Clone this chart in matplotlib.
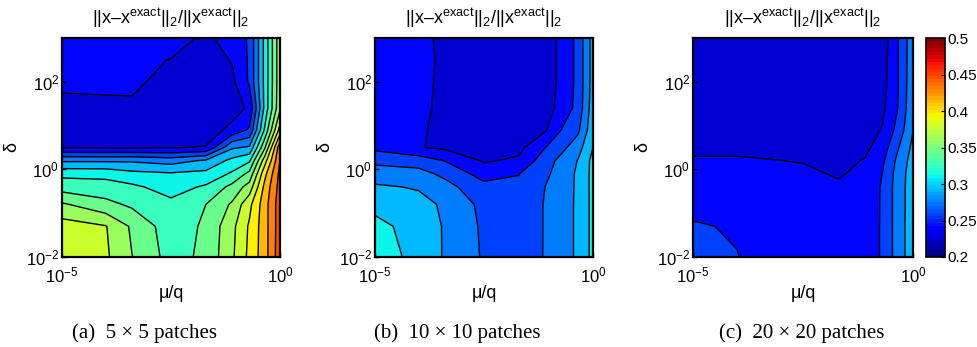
import numpy as np
import matplotlib
matplotlib.use("Agg")
import matplotlib.pyplot as plt
from matplotlib.colors import Normalize
from matplotlib.cm import ScalarMappable

plt.rcParams["font.family"] = ["Liberation Sans", "DejaVu Sans"]
plt.rcParams["mathtext.fontset"] = "custom"
plt.rcParams["mathtext.rm"] = "Liberation Sans"
plt.rcParams["mathtext.it"] = "Liberation Sans:italic"
plt.rcParams["mathtext.bf"] = "Liberation Sans:bold"

# ── Data (grid nodes are log10 exponents) ─────────────────────
mu_q_exp  = [-5, -4, -3.4, -2.5, -1.7, -1.1, -0.7, -0.35, 0]
delta_exp = [-2, -1.3, -0.8, -0.4, -0.1, 0.2, 0.5, 0.9, 1.4, 2.0, 2.5, 3]

# relative error, one list per mu/q node (bottom -> top in delta)
err_5x5_cols = [
    [0.385, 0.383, 0.360, 0.332, 0.318, 0.285, 0.234, 0.228, 0.231, 0.238, 0.240, 0.240],
    [0.378, 0.376, 0.345, 0.330, 0.317, 0.285, 0.233, 0.227, 0.231, 0.239, 0.240, 0.240],
    [0.358, 0.355, 0.337, 0.326, 0.310, 0.285, 0.233, 0.226, 0.232, 0.2385, 0.239, 0.239],
    [0.333, 0.330, 0.327, 0.315, 0.307, 0.280, 0.234, 0.225, 0.226, 0.229, 0.2345, 0.242],
    [0.344, 0.343, 0.340, 0.325, 0.310, 0.290, 0.236, 0.226, 0.225, 0.226, 0.228, 0.232],
    [0.372, 0.370, 0.360, 0.345, 0.325, 0.310, 0.285, 0.240, 0.227, 0.231, 0.236, 0.241],
    [0.397, 0.395, 0.388, 0.365, 0.345, 0.320, 0.290, 0.255, 0.238, 0.255, 0.255, 0.255],
    [0.420, 0.420, 0.420, 0.415, 0.405, 0.385, 0.355, 0.325, 0.310, 0.310, 0.310, 0.310],
    [0.456, 0.455, 0.455, 0.452, 0.450, 0.445, 0.440, 0.400, 0.372, 0.370, 0.370, 0.370],
]
err_10x10_cols = [
    [0.315, 0.310, 0.300, 0.290, 0.278, 0.266, 0.248, 0.242, 0.240, 0.240, 0.240, 0.240],
    [0.299, 0.298, 0.293, 0.286, 0.276, 0.262, 0.236, 0.237, 0.238, 0.239, 0.240, 0.240],
    [0.286, 0.286, 0.285, 0.276, 0.266, 0.252, 0.232, 0.231, 0.232, 0.232, 0.232, 0.231],
    [0.268, 0.267, 0.265, 0.258, 0.245, 0.233, 0.228, 0.225, 0.225, 0.225, 0.225, 0.225],
    [0.260, 0.259, 0.258, 0.256, 0.252, 0.238, 0.230, 0.225, 0.224, 0.224, 0.224, 0.224],
    [0.271, 0.271, 0.271, 0.270, 0.266, 0.262, 0.252, 0.233, 0.227, 0.226, 0.226, 0.226],
    [0.281, 0.281, 0.281, 0.280, 0.279, 0.276, 0.266, 0.254, 0.242, 0.240, 0.240, 0.240],
    [0.290, 0.290, 0.290, 0.290, 0.290, 0.288, 0.280, 0.266, 0.258, 0.257, 0.257, 0.257],
    [0.310, 0.310, 0.310, 0.310, 0.310, 0.310, 0.305, 0.300, 0.297, 0.295, 0.295, 0.295],
]
err_20x20_cols = [
    [0.258, 0.254, 0.248, 0.245, 0.242, 0.237, 0.231, 0.228, 0.227, 0.226, 0.226, 0.226],
    [0.253, 0.251, 0.247, 0.245, 0.242, 0.237, 0.231, 0.227, 0.226, 0.225, 0.225, 0.225],
    [0.247, 0.246, 0.244, 0.242, 0.240, 0.236, 0.230, 0.226, 0.225, 0.224, 0.224, 0.224],
    [0.243, 0.243, 0.242, 0.241, 0.239, 0.234, 0.228, 0.225, 0.224, 0.223, 0.223, 0.223],
    [0.242, 0.242, 0.241, 0.238, 0.233, 0.230, 0.227, 0.225, 0.224, 0.223, 0.223, 0.223],
    [0.244, 0.244, 0.243, 0.242, 0.240, 0.236, 0.231, 0.227, 0.225, 0.224, 0.224, 0.224],
    [0.254, 0.254, 0.254, 0.254, 0.2525, 0.249, 0.243, 0.236, 0.231, 0.228, 0.227, 0.226],
    [0.278, 0.278, 0.278, 0.278, 0.277, 0.274, 0.268, 0.258, 0.252, 0.251, 0.251, 0.251],
    [0.298, 0.298, 0.297, 0.297, 0.297, 0.295, 0.292, 0.287, 0.284, 0.283, 0.282, 0.282],
]

captions = ["(a)  5 × 5 patches", "(b)  10 × 10 patches", "(c)  20 × 20 patches"]
x_ticks = [-5, 0]
y_ticks = [-2, 0, 2]
cbar_ticks = [0.2, 0.25, 0.3, 0.35, 0.4, 0.45, 0.5]

# ── Style ─────────────────────────────────────────────────────
vmin, vmax = 0.2, 0.5
levels = vmin + 0.0175 * np.arange(0, 18)
jet = plt.get_cmap("jet")
jet64 = plt.get_cmap("jet", 64)
norm = Normalize(vmin, vmax)
# MATLAB style: each band takes the colour of its lower level
band_colors = [jet(norm(v + 0.004)) for v in levels[:-1]]

title = "||x–x$^{\\mathrm{exact}}$||$_2$/||x$^{\\mathrm{exact}}$||$_2$"

W, H = 978, 347
fig = plt.figure(figsize=(W / 100, H / 100), dpi=100)

ax_left = [62, 375, 693]
ax_w = [218, 218, 220]
ax_top, ax_bot = 38, 257
cap_x = [145, 457, 802]

for i, cols in enumerate([err_5x5_cols, err_10x10_cols, err_20x20_cols]):
    ax = fig.add_axes([ax_left[i] / W, (H - ax_bot) / H, ax_w[i] / W, (ax_bot - ax_top) / H])
    Z = np.array(cols).T
    ax.contourf(mu_q_exp, delta_exp, Z, levels=levels, colors=band_colors)
    ax.contour(mu_q_exp, delta_exp, Z, levels=levels, colors="k", linewidths=1.0)
    ax.set_xlim(-5, 0)
    ax.set_ylim(-2, 3)
    ax.set_xticks(x_ticks)
    ax.set_xticklabels([f"$10^{{{t}}}$" for t in x_ticks])
    ax.set_yticks(y_ticks)
    ax.set_yticklabels([f"$10^{{{t}}}$" for t in y_ticks])
    ax.tick_params(direction="in", length=3, width=1, labelsize=12)
    ax.tick_params(axis="x", pad=6)
    ax.tick_params(axis="y", pad=2)
    for s in ax.spines.values():
        s.set_linewidth(1.6)
    ax.set_xlabel("μ/q", fontsize=13, labelpad=0)
    ax.set_ylabel("δ", fontsize=13, labelpad=4)
    ax.set_title(title, fontsize=13, pad=10)
    fig.text(cap_x[i] / W, (H - 333) / H, captions[i], ha="center", va="center",
             fontsize=15, family="Liberation Serif")

cax = fig.add_axes([926 / W, (H - ax_bot) / H, 19 / W, (ax_bot - ax_top) / H])
cb = fig.colorbar(ScalarMappable(norm=norm, cmap=jet64), cax=cax, ticks=cbar_ticks)
cb.ax.set_yticklabels([f"{t:g}" for t in cbar_ticks])
cb.ax.tick_params(direction="in", length=3, labelsize=11, pad=2)
cb.outline.set_linewidth(1.2)

plt.savefig("out.png", dpi=100)
